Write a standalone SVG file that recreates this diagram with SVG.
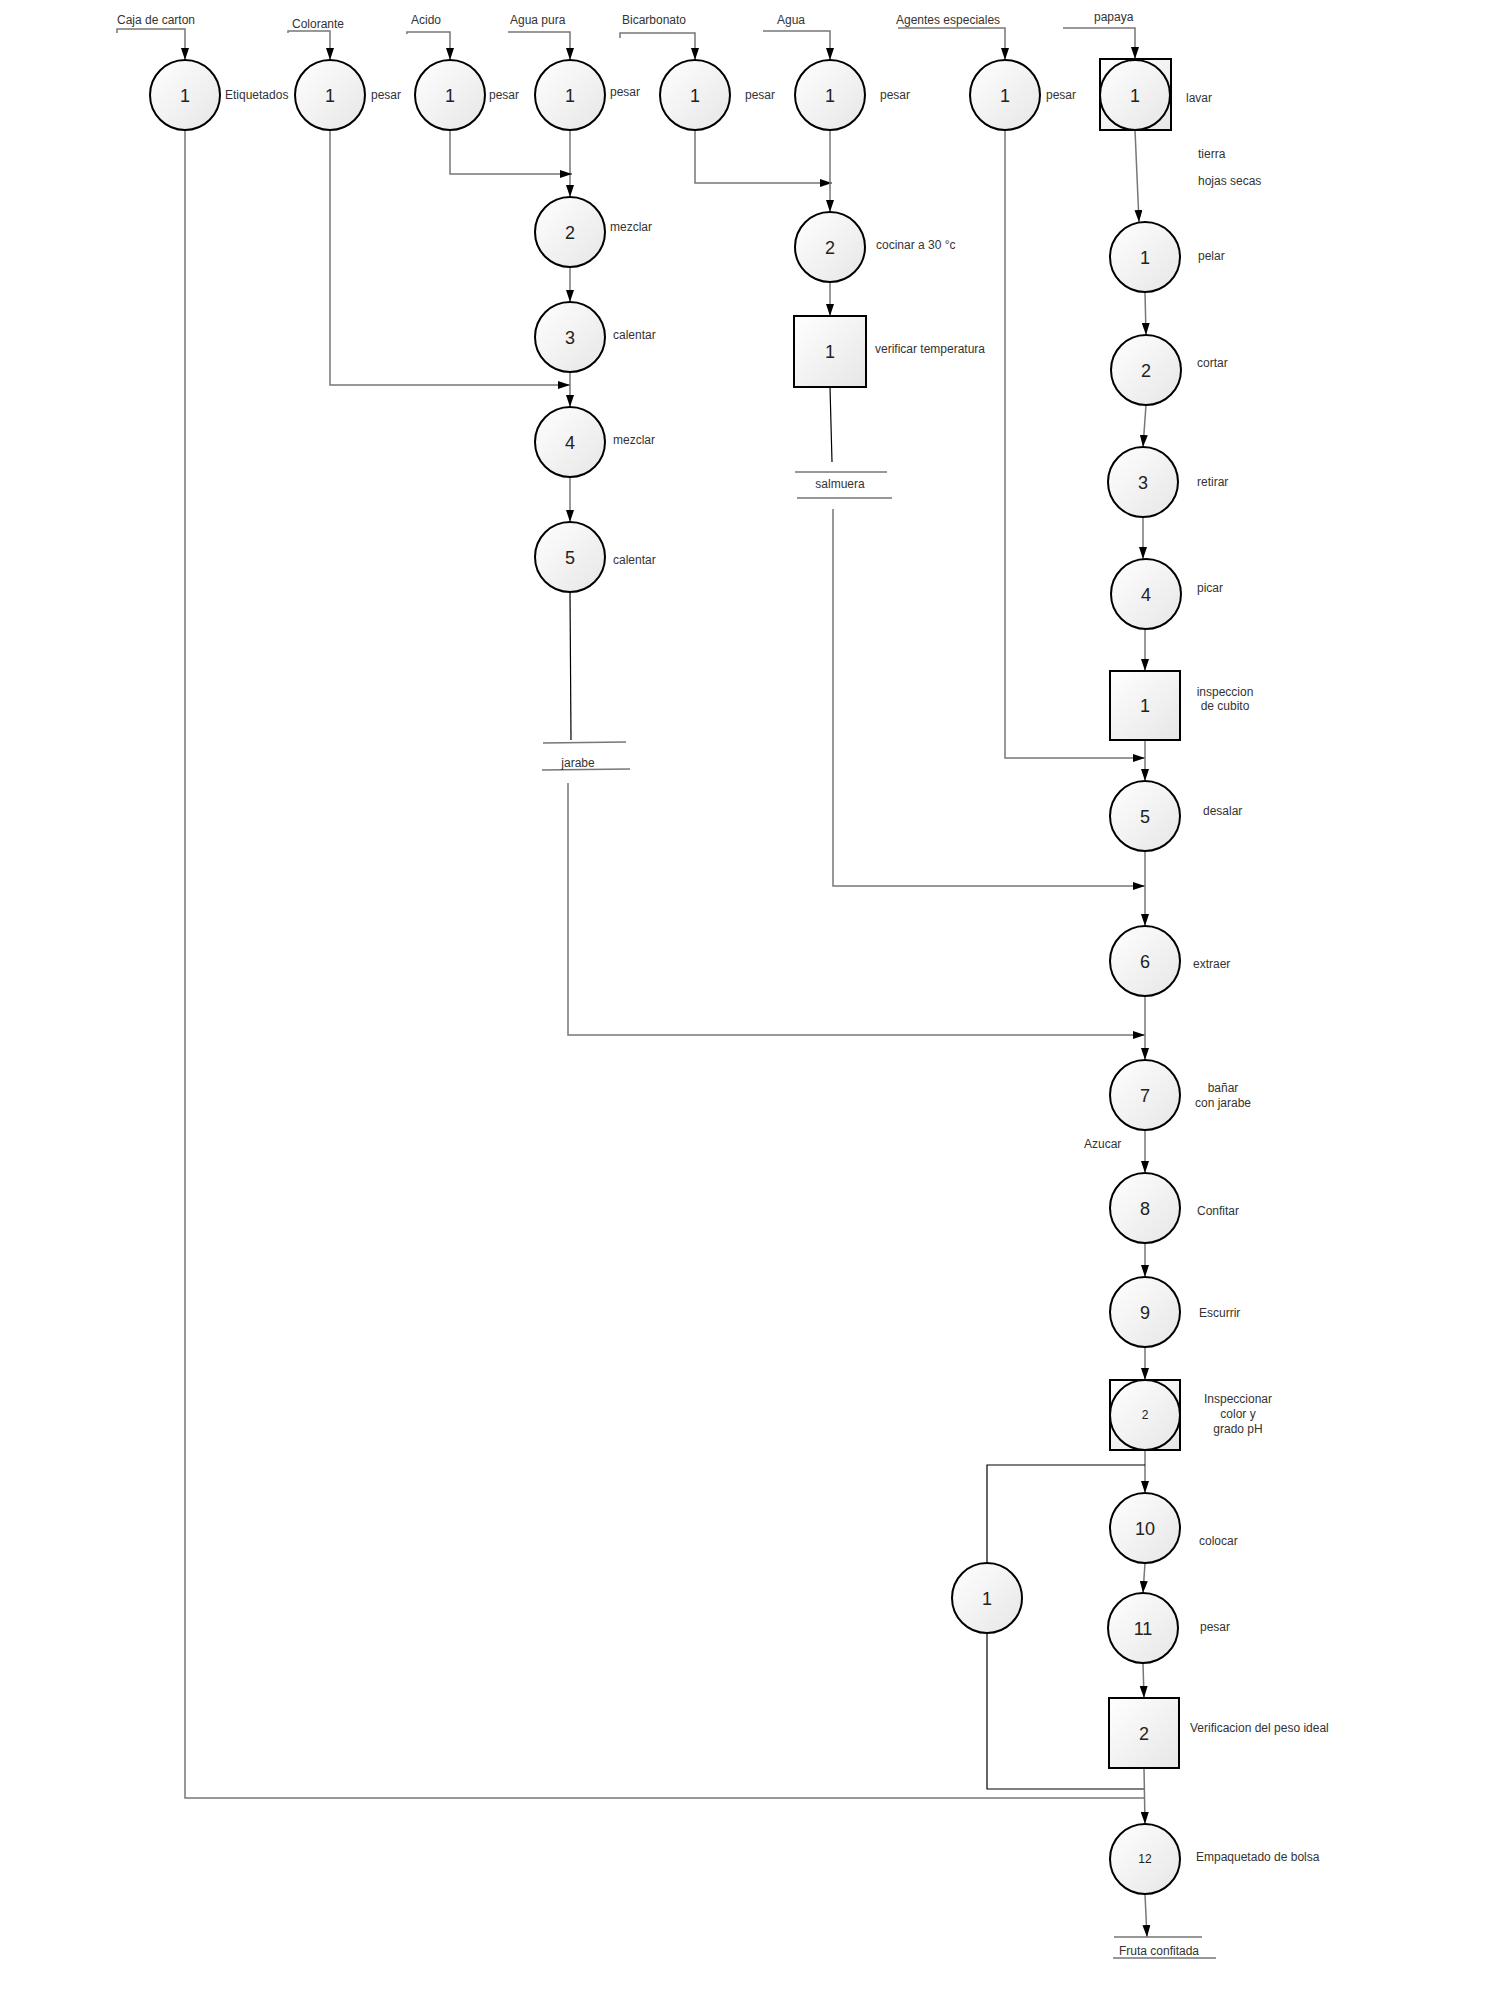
<svg xmlns="http://www.w3.org/2000/svg" width="1500" height="2000" viewBox="0 0 1500 2000">
<defs>
<linearGradient id="g" x1="0" y1="0" x2="1" y2="1">
<stop offset="0" stop-color="#ffffff"/>
<stop offset="1" stop-color="#e6e6e6"/>
</linearGradient>
<marker id="a" markerUnits="userSpaceOnUse" markerWidth="12" markerHeight="8" refX="12" refY="4" orient="auto">
<path d="M0,0 L12,4 L0,8 z" fill="#000"/>
</marker>
</defs>
<style>
.n{fill:url(#g);stroke:#000;stroke-width:2}
.num{font-family:"Liberation Sans",Arial,sans-serif;font-size:18px;fill:#222;text-anchor:middle}
.sn{font-family:"Liberation Sans",Arial,sans-serif;font-size:12px;fill:#222;text-anchor:middle}
.t{font-family:"Liberation Sans",Arial,sans-serif;font-size:12px;fill:#333}
.tc{font-family:"Liberation Sans",Arial,sans-serif;font-size:12px;fill:#333;text-anchor:middle}
.c{fill:none;stroke:#777;stroke-width:1.5}
.ca{fill:none;stroke:#777;stroke-width:1.5;marker-end:url(#a)}
.k{fill:none;stroke:#000;stroke-width:1.2}
.st{fill:none;stroke:#777;stroke-width:1.5}
</style>
<rect width="1500" height="2000" fill="#fff"/>

<g id="connectors">
<path class="ca" d="M117,33 V29 H185 V60"/>
<path class="ca" d="M288,33 V31 H330 V60"/>
<path class="ca" d="M407,34 V32 H450 V60"/>
<path class="ca" d="M508,32 H570 V60"/>
<path class="ca" d="M620,38 V33 H695 V60"/>
<path class="ca" d="M763,31 H830 V60"/>
<path class="ca" d="M898,28 H1005 V60"/>
<path class="ca" d="M1063,28 H1135 V59"/>

<path class="ca" d="M570,130 V197"/>
<path class="ca" d="M450,130 V174 H572"/>
<path class="ca" d="M570,267 V302"/>
<path class="ca" d="M570,372 V407"/>
<path class="ca" d="M330,130 V385 H570"/>
<path class="ca" d="M570,477 V522"/>
<path class="k" d="M570,592 L571,740"/>
<path class="ca" d="M568,783 V1035 H1145"/>

<path class="ca" d="M695,130 V183 H832"/>
<path class="ca" d="M830,130 V212"/>
<path class="ca" d="M830,282 V316"/>
<path class="k" d="M830,387 L832,462"/>
<path class="ca" d="M833,509 V886 H1145"/>

<path class="ca" d="M1005,130 V758 H1145"/>

<path class="ca" d="M1135,130 L1139,222"/>
<path class="ca" d="M1145,292 L1146,335"/>
<path class="ca" d="M1146,405 L1143,447"/>
<path class="ca" d="M1143,517 V559"/>
<path class="ca" d="M1145,629 V671"/>
<path class="ca" d="M1145,740 V781"/>
<path class="ca" d="M1145,851 V926"/>
<path class="ca" d="M1145,996 V1060"/>
<path class="ca" d="M1145,1130 V1173"/>
<path class="ca" d="M1145,1243 V1277"/>
<path class="ca" d="M1145,1347 V1380"/>
<path class="ca" d="M1145,1450 V1493"/>
<path class="k" d="M1145,1465 H987 V1563"/>
<path class="ca" d="M1145,1563 L1143,1593"/>
<path class="ca" d="M1143,1663 L1144,1698"/>
<path class="k" d="M987,1633 V1789 H1144"/>
<path class="c" d="M185,130 V1798 H1144"/>
<path class="ca" d="M1144,1768 L1145,1824"/>
<path class="ca" d="M1145,1894 L1147,1937"/>
</g>

<g id="in-caja"><text class="t" x="117" y="24">Caja de carton</text></g>
<g id="in-colorante"><text class="t" x="292" y="28">Colorante</text></g>
<g id="in-acido"><text class="t" x="411" y="24">Acido</text></g>
<g id="in-aguapura"><text class="t" x="510" y="24">Agua pura</text></g>
<g id="in-bicarbonato"><text class="t" x="622" y="24">Bicarbonato</text></g>
<g id="in-agua"><text class="t" x="777" y="24">Agua</text></g>
<g id="in-agentes"><text class="t" x="896" y="24">Agentes especiales</text></g>
<g id="in-papaya"><text class="t" x="1094" y="21">papaya</text></g>

<g id="op-caja"><circle class="n" cx="185" cy="95" r="35"/><text class="num" x="185" y="101.5">1</text><text class="t" x="225" y="99">Etiquetados</text></g>
<g id="op-colorante"><circle class="n" cx="330" cy="95" r="35"/><text class="num" x="330" y="101.5">1</text><text class="t" x="371" y="99">pesar</text></g>
<g id="op-acido"><circle class="n" cx="450" cy="95" r="35"/><text class="num" x="450" y="101.5">1</text><text class="t" x="489" y="99">pesar</text></g>
<g id="op-aguapura"><circle class="n" cx="570" cy="95" r="35"/><text class="num" x="570" y="101.5">1</text><text class="t" x="610" y="96">pesar</text></g>
<g id="op-bicarbonato"><circle class="n" cx="695" cy="95" r="35"/><text class="num" x="695" y="101.5">1</text><text class="t" x="745" y="99">pesar</text></g>
<g id="op-agua"><circle class="n" cx="830" cy="95" r="35"/><text class="num" x="830" y="101.5">1</text><text class="t" x="880" y="99">pesar</text></g>
<g id="op-agentes"><circle class="n" cx="1005" cy="95" r="35"/><text class="num" x="1005" y="101.5">1</text><text class="t" x="1046" y="99">pesar</text></g>
<g id="op-lavar"><rect class="n" x="1100" y="59" width="71" height="71"/><circle class="n" cx="1135" cy="95" r="35"/><text class="num" x="1135" y="101.5">1</text><text class="t" x="1186" y="102">lavar</text></g>

<g id="op-mezclar2"><circle class="n" cx="570" cy="232" r="35"/><text class="num" x="570" y="238.5">2</text><text class="t" x="610" y="231">mezclar</text></g>
<g id="op-calentar3"><circle class="n" cx="570" cy="337" r="35"/><text class="num" x="570" y="343.5">3</text><text class="t" x="613" y="339">calentar</text></g>
<g id="op-mezclar4"><circle class="n" cx="570" cy="442" r="35"/><text class="num" x="570" y="448.5">4</text><text class="t" x="613" y="444">mezclar</text></g>
<g id="op-calentar5"><circle class="n" cx="570" cy="557" r="35"/><text class="num" x="570" y="563.5">5</text><text class="t" x="613" y="564">calentar</text></g>
<g id="st-jarabe"><path class="st" d="M543,743 L626,742 M542,770 L630,769"/><text class="tc" x="578" y="767">jarabe</text></g>

<g id="op-cocinar"><circle class="n" cx="830" cy="247" r="35"/><text class="num" x="830" y="253.5">2</text><text class="t" x="876" y="249">cocinar a 30 °c</text></g>
<g id="in-verificar"><rect class="n" x="794" y="316" width="72" height="71"/><text class="num" x="830" y="358">1</text><text class="t" x="875" y="353">verificar temperatura</text></g>
<g id="st-salmuera"><path class="st" d="M795,472 L887,472 M797,498 L892,498"/><text class="tc" x="840" y="488">salmuera</text></g>

<g id="lbl-merma"><text class="t" x="1198" y="158">tierra</text><text class="t" x="1198" y="185">hojas secas</text></g>
<g id="op-pelar"><circle class="n" cx="1145" cy="257" r="35"/><text class="num" x="1145" y="263.5">1</text><text class="t" x="1198" y="260">pelar</text></g>
<g id="op-cortar"><circle class="n" cx="1146" cy="370" r="35"/><text class="num" x="1146" y="376.5">2</text><text class="t" x="1197" y="367">cortar</text></g>
<g id="op-retirar"><circle class="n" cx="1143" cy="482" r="35"/><text class="num" x="1143" y="488.5">3</text><text class="t" x="1197" y="486">retirar</text></g>
<g id="op-picar"><circle class="n" cx="1146" cy="594" r="35"/><text class="num" x="1146" y="600.5">4</text><text class="t" x="1197" y="592">picar</text></g>
<g id="in-cubito"><rect class="n" x="1110" y="671" width="70" height="69"/><text class="num" x="1145" y="712">1</text><text class="tc" x="1225" y="696">inspeccion</text><text class="tc" x="1225" y="710">de cubito</text></g>
<g id="op-desalar"><circle class="n" cx="1145" cy="816" r="35"/><text class="num" x="1145" y="822.5">5</text><text class="t" x="1203" y="815">desalar</text></g>
<g id="op-extraer"><circle class="n" cx="1145" cy="961" r="35"/><text class="num" x="1145" y="967.5">6</text><text class="t" x="1193" y="968">extraer</text></g>
<g id="op-banar"><circle class="n" cx="1145" cy="1095" r="35"/><text class="num" x="1145" y="1101.5">7</text><text class="tc" x="1223" y="1092">bañar</text><text class="tc" x="1223" y="1107">con jarabe</text></g>
<g id="lbl-azucar"><text class="t" x="1084" y="1148">Azucar</text></g>
<g id="op-confitar"><circle class="n" cx="1145" cy="1208" r="35"/><text class="num" x="1145" y="1214.5">8</text><text class="t" x="1197" y="1215">Confitar</text></g>
<g id="op-escurrir"><circle class="n" cx="1145" cy="1312" r="35"/><text class="num" x="1145" y="1318.5">9</text><text class="t" x="1199" y="1317">Escurrir</text></g>
<g id="co-inspeccionar"><rect class="n" x="1110" y="1380" width="70" height="70"/><circle class="n" cx="1145" cy="1415" r="35"/><text class="sn" x="1145" y="1419">2</text><text class="tc" x="1238" y="1403">Inspeccionar</text><text class="tc" x="1238" y="1418">color y</text><text class="tc" x="1238" y="1433">grado pH</text></g>
<g id="op-colocar"><circle class="n" cx="1145" cy="1528" r="35"/><text class="num" x="1145" y="1534.5">10</text><text class="t" x="1199" y="1545">colocar</text></g>
<g id="op-branch1"><circle class="n" cx="987" cy="1598" r="35"/><text class="num" x="987" y="1604.5">1</text></g>
<g id="op-pesar11"><circle class="n" cx="1143" cy="1628" r="35"/><text class="num" x="1143" y="1634.5">11</text><text class="t" x="1200" y="1631">pesar</text></g>
<g id="in-peso"><rect class="n" x="1109" y="1698" width="70" height="70"/><text class="num" x="1144" y="1739.5">2</text><text class="t" x="1190" y="1732">Verificacion del peso ideal</text></g>
<g id="op-empaquetado"><circle class="n" cx="1145" cy="1859" r="35"/><text class="sn" x="1145" y="1863">12</text><text class="t" x="1196" y="1861">Empaquetado de bolsa</text></g>
<g id="st-fruta"><path class="st" d="M1114,1937 L1202,1937 M1113,1958 L1216,1958"/><text class="t" x="1119" y="1955">Fruta confitada</text></g>
</svg>
